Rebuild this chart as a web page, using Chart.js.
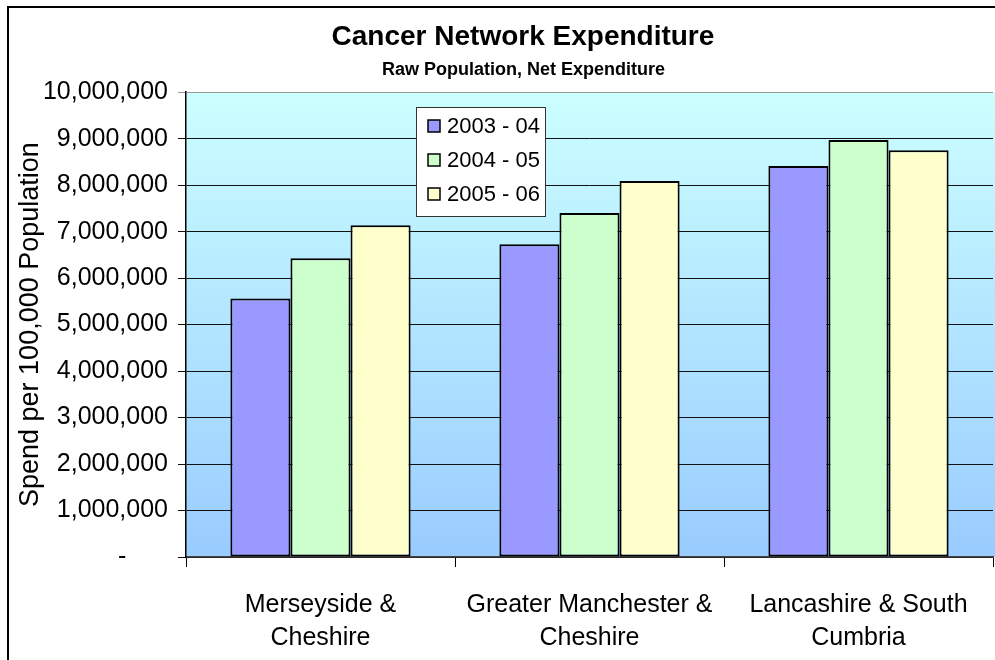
<!DOCTYPE html>
<html>
<head>
<meta charset="utf-8">
<script src="https://cdn.jsdelivr.net/npm/chart.js@4"></script>
<style>
  html, body { margin: 0; padding: 0; background: #fff; overflow: hidden; }
  #wrap { position: relative; width: 1042px; height: 660px; }
  #frame { position: absolute; left: 7px; top: 6px; width: 1100px; height: 700px;
           border-left: 2px solid #000; border-top: 2px solid #000; }
</style>
</head>
<body>
<div id="wrap">
  <div id="frame"></div>
  <canvas id="chart" width="1042" height="660"></canvas>
</div>
<script>
const categories = [
  ["Merseyside &", "Cheshire"],
  ["Greater Manchester &", "Cheshire"],
  ["Lancashire & South", "Cumbria"],
];
const years = ["2003 - 04", "2004 - 05", "2005 - 06"];
const spend0304 = [5560000, 6730000, 8410000];
const spend0405 = [6430000, 7400000, 8970000];
const spend0506 = [7140000, 8090000, 8750000];

const FONT = "'Liberation Sans', Arial, sans-serif";

// plot area fill, gradient top to bottom
const plotBg = {
  id: "plotBg",
  beforeDraw(chart) {
    const { ctx, chartArea: a } = chart;
    const g = ctx.createLinearGradient(0, a.top, 0, a.bottom);
    g.addColorStop(0, "#ccffff");
    g.addColorStop(1, "#99ccff");
    ctx.save();
    ctx.fillStyle = g;
    ctx.fillRect(a.left, a.top, a.right - a.left + 2, a.bottom - a.top);
    ctx.restore();
  },
};

// boxed legend sitting inside the plot
const boxLegend = {
  id: "boxLegend",
  afterDraw(chart) {
    const ctx = chart.ctx;
    const x = 416, y = 107, w = 129, h = 109;
    ctx.save();
    ctx.fillStyle = "#fff";
    ctx.fillRect(x, y, w, h);
    ctx.strokeStyle = "#333";
    ctx.lineWidth = 1;
    ctx.strokeRect(x + 0.5, y + 0.5, w, h);
    ctx.font = "22px " + FONT;
    ctx.textBaseline = "middle";
    chart.data.datasets.forEach((ds, i) => {
      const cy = y + 19 + i * 34;
      ctx.fillStyle = ds.backgroundColor;
      ctx.fillRect(x + 12, cy - 6, 12, 12);
      ctx.strokeStyle = "#000";
      ctx.lineWidth = 1.5;
      ctx.strokeRect(x + 12, cy - 6, 12, 12);
      ctx.fillStyle = "#000";
      ctx.fillText(ds.label, x + 31, cy + 1);
    });
    ctx.restore();
  },
};

const ctx = document.getElementById("chart").getContext("2d");
const myChart = new Chart(ctx, {
  type: "bar",
  data: {
    labels: categories,
    datasets: [
      { label: years[0], data: spend0304, backgroundColor: "#9999ff" },
      { label: years[1], data: spend0405, backgroundColor: "#ccffcc" },
      { label: years[2], data: spend0506, backgroundColor: "#ffffcc" },
    ].map((d) => Object.assign(d, {
      borderColor: "#000",
      borderWidth: 2,
      borderSkipped: false,
      barPercentage: 1,
      categoryPercentage: 0.67,
    })),
  },
  options: {
    responsive: false,
    animation: false,
    layout: { padding: { left: 14, right: 49, top: 0, bottom: 0 } },
    plugins: {
      legend: { display: false },
      tooltip: { enabled: false },
      title: {
        display: true,
        // leading spaces nudge the centre right, the way the original sits
        text: "     Cancer Network Expenditure",
        color: "#000",
        font: { family: FONT, size: 28, weight: "bold" },
        padding: { top: 20, bottom: 4 },
      },
      subtitle: {
        display: true,
        text: "        Raw Population, Net Expenditure",
        color: "#000",
        font: { family: FONT, size: 18, weight: "bold" },
        padding: { top: 2, bottom: 11 },
      },
    },
    scales: {
      x: {
        grid: {
          display: true,
          drawOnChartArea: false,
          tickLength: 10,
          color: "#000",
          offset: true,
        },
        border: { color: "#444", width: 1.5 },
        ticks: {
          color: "#000",
          padding: 22,
          maxRotation: 0,
          font: { family: FONT, size: 25, lineHeight: 1.3 },
        },
        afterFit(scale) { scale.height = 103; },
      },
      y: {
        min: 0,
        max: 10000000,
        grid: {
          color: (c) => (c.tick && c.tick.value === 10000000 ? "#999" : "#111"),
          lineWidth: 1,
          tickLength: 8,
        },
        border: { color: "#000", width: 1.5 },
        ticks: {
          stepSize: 1000000,
          color: "#000",
          padding: 10,
          font: { family: FONT, size: 25 },
          callback: (v) => (v === 0 ? "-      " : v.toLocaleString("en-US")),
        },
        title: {
          display: true,
          text: "Spend per 100,000 Population",
          color: "#000",
          font: { family: FONT, size: 27 },
          padding: { top: 0, bottom: 0 },
        },
        afterFit(scale) { scale.width = 172; },
      },
    },
  },
  plugins: [plotBg, boxLegend],
});
</script>
</body>
</html>
